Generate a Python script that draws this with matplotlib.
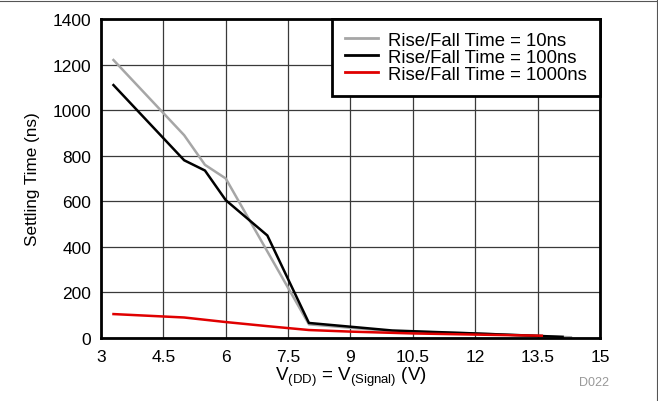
import matplotlib
matplotlib.use("Agg")
import matplotlib.pyplot as plt
from matplotlib.lines import Line2D

plt.rcParams["font.family"] = ["Liberation Sans", "DejaVu Sans"]

# ── data ──────────────────────────────────────────────────────────────────────
v_10ns = [3.3, 5.0, 5.5, 6.0, 8.0, 10.0, 12.0, 14.3]
t_10ns = [1220, 890, 760, 700, 60, 30, 20, 3]

v_100ns = [3.3, 5.0, 5.5, 6.0, 7.0, 8.0, 10.0, 12.0, 14.1]
t_100ns = [1110, 780, 735, 605, 450, 66, 33, 20, 5]

v_1000ns = [3.3, 5.0, 6.0, 7.0, 8.0, 9.0, 10.5, 12.0, 13.6]
t_1000ns = [105, 90, 70, 52, 35, 28, 20, 15, 10]

labels = ["Rise/Fall Time = 10ns", "Rise/Fall Time = 100ns", "Rise/Fall Time = 1000ns"]
colors = ["#a6a6a6", "black", "#e00000"]

x_ticks = [3, 4.5, 6, 7.5, 9, 10.5, 12, 13.5, 15]
x_tick_labels = ["3", "4.5", "6", "7.5", "9", "10.5", "12", "13.5", "15"]
y_ticks = [0, 200, 400, 600, 800, 1000, 1200, 1400]

# ── figure ────────────────────────────────────────────────────────────────────
fig = plt.figure(figsize=(6.58, 4.02), dpi=100)
ax = fig.add_axes([101 / 658, 1 - 339 / 402, 499 / 658, 319 / 402])

for xs, ys, c, lab in zip([v_10ns, v_100ns, v_1000ns],
                          [t_10ns, t_100ns, t_1000ns], colors, labels):
    ax.plot(xs, ys, color=c, lw=1.8, label=lab, zorder=3)

ax.set_xlim(3, 15)
ax.set_ylim(0, 1400)
ax.set_xticks(x_ticks)
ax.set_xticklabels(x_tick_labels)
ax.set_yticks(y_ticks)
ax.grid(True, color="#3a3a3a", lw=0.9)
ax.set_axisbelow(True)
ax.tick_params(length=0, labelsize=12.5)
ax.tick_params(axis="x", pad=8)
ax.tick_params(axis="y", pad=7)
for sp in ax.spines.values():
    sp.set_linewidth(2.0)
    sp.set_zorder(5)

ax.set_ylabel("Settling Time (ns)", fontsize=12.3, labelpad=9)
ax.set_xlabel(r"V$_{\mathregular{(DD)}}$ = V$_{\mathregular{(Signal)}}$ (V)", fontsize=13.5, labelpad=0)

leg = ax.legend(loc="upper right", fontsize=13.3, frameon=True, fancybox=False,
                borderaxespad=0, handlelength=1.8, handletextpad=0.55,
                labelspacing=0.0, borderpad=0.7)
leg.get_frame().set_edgecolor("black")
leg.get_frame().set_linewidth(2.0)
leg.get_frame().set_alpha(1)
for h in leg.get_lines():
    h.set_linewidth(2.0)

fig.text(594 / 658, 1 - 383 / 402, "D022", fontsize=9, color="#999999", ha="center", va="center")

# thin outer frame (top and right) as in the source image
fig.add_artist(Line2D([0, 1], [1 - 2 / 402] * 2, color="#555555", lw=0.8, transform=fig.transFigure))
fig.add_artist(Line2D([656.5 / 658] * 2, [0, 1], color="#555555", lw=0.8, transform=fig.transFigure))

fig.savefig("out.png", dpi=100)
